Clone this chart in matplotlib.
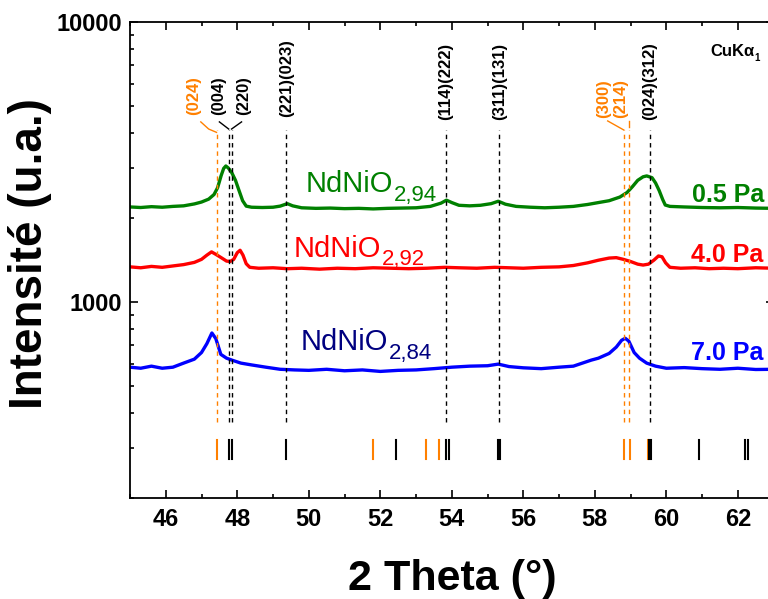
import numpy as np
import matplotlib
matplotlib.use('Agg')
import matplotlib.pyplot as plt
from matplotlib.ticker import MultipleLocator, FixedLocator, LogLocator, NullFormatter, FuncFormatter

plt.rcParams['font.family'] = ['Liberation Sans', 'DejaVu Sans']

# --- data (2 theta in degrees, intensity in a.u.) ---
tt_05 = [45.0, 45.3, 45.6, 45.9, 46.2, 46.5, 46.8, 47.0, 47.2, 47.35, 47.45, 47.55, 47.62,
         47.68, 47.75, 47.85, 47.95, 48.05, 48.15, 48.25, 48.4, 48.7, 49.0, 49.2, 49.4, 49.55,
         49.8, 50.2, 50.6, 51.0, 51.4, 51.8, 52.2, 52.6, 53.0, 53.4, 53.7, 53.85, 54.0, 54.2,
         54.5, 54.8, 55.1, 55.3, 55.5, 55.8, 56.2, 56.6, 57.0, 57.4, 57.8, 58.1, 58.4, 58.7,
         58.9, 59.05, 59.2, 59.35, 59.45, 59.6, 59.7, 59.8, 59.9, 59.97, 60.1, 60.5, 61.0,
         61.5, 62.0, 62.5, 63.0]
int_05 = [2185, 2175, 2190, 2180, 2195, 2205, 2240, 2275, 2330, 2420, 2560, 2830, 3000,
          3060, 3010, 2890, 2720, 2500, 2300, 2200, 2180, 2175, 2180, 2200, 2245, 2205,
          2170, 2160, 2165, 2155, 2160, 2150, 2160, 2165, 2170, 2195, 2255, 2310, 2265, 2215,
          2205, 2215, 2245, 2290, 2235, 2195, 2180, 2170, 2180, 2195, 2230, 2265, 2300, 2370,
          2460, 2580, 2720, 2800, 2820, 2780, 2660, 2500, 2320, 2220, 2195, 2185, 2175,
          2170, 2175, 2165, 2160]

tt_40 = [45.0, 45.3, 45.6, 45.9, 46.2, 46.5, 46.8, 47.0, 47.15, 47.28, 47.4, 47.55, 47.7,
         47.8, 47.9, 48.0, 48.08, 48.16, 48.25, 48.35, 48.6, 49.0, 49.4, 49.8, 50.3, 50.8,
         51.3, 51.8, 52.3, 52.8, 53.3, 53.8, 54.2, 54.7, 55.2, 55.6, 56.0, 56.5, 57.0, 57.4,
         57.8, 58.1, 58.4, 58.6, 58.8, 59.0, 59.2, 59.35, 59.5, 59.65, 59.78, 59.88, 59.98,
         60.1, 60.4, 60.8, 61.2, 61.6, 62.0, 62.5, 63.0]
int_40 = [1335, 1325, 1340, 1330, 1345, 1360, 1385, 1420, 1470, 1510, 1480, 1440, 1400,
          1395, 1420, 1500, 1530, 1470, 1370, 1330, 1320, 1325, 1315, 1320, 1310, 1320,
          1315, 1325, 1320, 1315, 1320, 1330, 1325, 1320, 1330, 1325, 1320, 1330, 1335, 1350,
          1380, 1410, 1435, 1440, 1420, 1395, 1365, 1355, 1365, 1410, 1460, 1450, 1380,
          1330, 1320, 1325, 1315, 1320, 1315, 1325, 1320]

tt_70 = [45.0, 45.3, 45.6, 45.9, 46.2, 46.5, 46.8, 47.0, 47.15, 47.29, 47.4, 47.54, 47.7,
         47.85, 48.1, 48.4, 48.8, 49.2, 49.6, 50.0, 50.5, 51.0, 51.5, 52.0, 52.5, 53.0, 53.5,
         54.0, 54.5, 55.0, 55.3, 55.6, 56.0, 56.5, 57.0, 57.4, 57.9, 58.1, 58.4, 58.6, 58.75,
         58.85, 58.95, 59.1, 59.25, 59.45, 59.7, 60.0, 60.5, 61.0, 61.5, 62.0, 62.5, 63.0]
int_70 = [585, 580, 590, 580, 585, 605, 625, 660, 710, 775, 740, 650, 630,
          620, 605, 596, 585, 575, 572, 570, 575, 568, 572, 565, 570, 572, 578,
          585, 590, 592, 600, 588, 582, 578, 585, 590, 620, 630, 655, 690, 730,
          742, 725, 660, 630, 605, 590, 580, 583, 578, 575, 580, 574, 575]

# reference reflections (2 theta)
hkl_orange = [47.42, 58.81, 58.95]
hkl_black = [47.76, 47.84, 49.37, 53.85, 55.33, 59.54]
ref_orange = [47.43, 51.80, 53.27, 53.65, 58.81, 58.99, 59.49]
ref_black = [47.77, 47.85, 49.37, 52.43, 53.84, 53.92, 55.30, 55.35, 59.52, 59.56, 60.92,
             62.20, 62.28]

hkl_text = ['(024)', '(004)', '(220)', '(221)(023)', '(114)(222)', '(311)(131)',
            '(300)', '(214)', '(024)(312)']

ORANGE = '#ff8000'
GREEN = '#008000'

fig = plt.figure(figsize=(7.68, 5.99), dpi=100)
ax = fig.add_axes([130 / 768, (599 - 497.7) / 599, 643.6 / 768, 475.7 / 599])

ax.plot(tt_05, int_05, color=GREEN, lw=2.4)
ax.plot(tt_40, int_40, color='#ff0000', lw=2.4)
ax.plot(tt_70, int_70, color='#0000ff', lw=2.4)

ax.set_yscale('log')
ax.set_xlim(45, 63)
ax.set_ylim(200, 10000)

tr = ax.get_xaxis_transform()

# dashed guide lines
for x in hkl_orange:
    ax.plot([x, x], [0.159, 0.773], transform=tr, color=ORANGE, lw=1.0, dashes=(3.2, 2.8))
for x in hkl_black:
    ax.plot([x, x], [0.159, 0.773], transform=tr, color='black', lw=1.0, dashes=(3.2, 2.8))

# reference tick marks at bottom
for x in ref_orange:
    ax.plot([x, x], [0.081, 0.122], transform=tr, color=ORANGE, lw=1.5)
for x in ref_black:
    ax.plot([x, x], [0.081, 0.122], transform=tr, color='black', lw=1.5)

# hkl labels
lab_x = [46.79, 47.49, 48.19, 49.37, 53.82, 55.34, 58.25, 58.72, 59.54]
lab_y = [0.805, 0.805, 0.805, 0.800, 0.794, 0.794, 0.798, 0.798, 0.794]
lab_c = [ORANGE, 'black', 'black', 'black', 'black', 'black', ORANGE, ORANGE, 'black']
for t, x, y, c in zip(hkl_text, lab_x, lab_y, lab_c):
    ax.text(x, y, t, transform=tr, rotation=90, ha='center', va='bottom',
            fontsize=12, fontweight='bold', color=c)

# small connectors between labels and dashed lines
ax.plot([46.98, 47.20, 47.42], [0.790, 0.775, 0.768], transform=tr, color=ORANGE, lw=1.0)
ax.plot([47.50, 47.76], [0.790, 0.775], transform=tr, color='black', lw=1.0)
ax.plot([48.12, 47.84], [0.790, 0.775], transform=tr, color='black', lw=1.0)
ax.plot([58.36, 58.81], [0.792, 0.773], transform=tr, color=ORANGE, lw=1.0)
ax.plot([58.95, 58.95], [0.792, 0.780], transform=tr, color=ORANGE, lw=1.0)

# sample labels: formula plus subscript
samples = [('2,94', 49.92, 0.643, GREEN),
           ('2,92', 49.59, 0.507, '#ff0000'),
           ('2,84', 49.77, 0.3105, '#000080')]
for sub, x, y, c in samples:
    t = ax.text(x, y, 'NdNiO', transform=tr, fontsize=21, color=c, va='baseline')
    ax.annotate(sub, xy=(1, 0), xycoords=t, xytext=(0.5, -2), textcoords='offset points',
                fontsize=16, color=c, va='baseline', ha='left')

ax.text(60.72, 0.622, '0.5 Pa', transform=tr, fontsize=18, fontweight='bold',
        color=GREEN, va='baseline')
ax.text(60.70, 0.496, '4.0 Pa', transform=tr, fontsize=18, fontweight='bold',
        color='#ff0000', va='baseline')
ax.text(60.70, 0.2895, '7.0 Pa', transform=tr, fontsize=18, fontweight='bold',
        color='#0000ff', va='baseline')

ax.text(61.22, 0.9286, 'CuKα', transform=tr, fontsize=12, fontweight='bold', va='baseline')
ax.text(62.46, 0.918, '1', transform=tr, fontsize=7, fontweight='bold', va='baseline')

# axes styling
ax.xaxis.set_major_locator(MultipleLocator(2))
ax.xaxis.set_minor_locator(MultipleLocator(1))
ax.yaxis.set_major_locator(FixedLocator([1000, 10000]))
ax.yaxis.set_major_formatter(FuncFormatter(lambda v, p: '%d' % v))
ax.yaxis.set_minor_locator(LogLocator(base=10, subs=np.arange(2, 10)))
ax.yaxis.set_minor_formatter(NullFormatter())
ax.tick_params(which='both', direction='in', top=True, right=True, width=1.2)
ax.tick_params(which='major', length=5.5, labelsize=17)
ax.tick_params(which='minor', length=2.8)
ax.tick_params(axis='x', pad=7.5)
ax.tick_params(axis='y', pad=6)
for lbl in ax.get_xticklabels() + ax.get_yticklabels():
    lbl.set_fontweight('bold')
for s in ax.spines.values():
    s.set_linewidth(1.3)

fig.text(452 / 768, (599 - 590) / 599, '2 Theta (°)', ha='center', va='baseline',
         fontsize=31, fontweight='bold')
fig.text(30 / 768, 1 - 253.5 / 599, 'Intensité (u.a.)', ha='center', va='center',
         rotation=90, fontsize=33, fontweight='bold')

fig.savefig('out.png', dpi=100)
